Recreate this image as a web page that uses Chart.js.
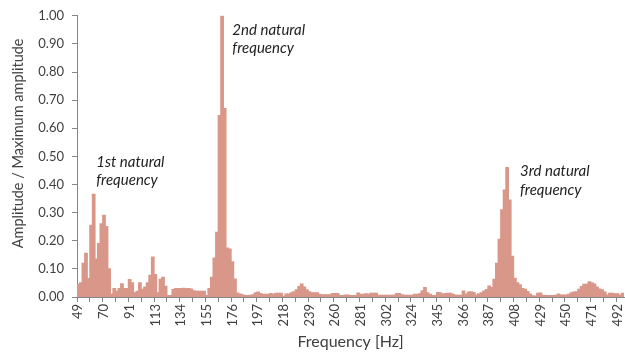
<!DOCTYPE html>
<html>
<head>
<meta charset="utf-8">
<script src="https://cdn.jsdelivr.net/npm/chart.js@4"></script>
<style>
  body { margin: 0; background: #fff; }
  #wrap { width: 625px; height: 353px; }
</style>
</head>
<body>
<div id="wrap"><canvas id="chart-area"></canvas></div>
<script>
// frequency spectrum, amplitude normalised by the max
var tickLabels = ['49', '70', '91', '113', '134', '155', '176', '197', '218', '239', '260',
  '281', '302', '324', '345', '366', '387', '408', '429', '450', '471', '492'];
var binsPerLabel = 10;

var amplitude = [
  0.045, 0.05, 0.12, 0.155, 0.065, 0.255, 0.365, 0.135, 0.19, 0.26,
  0.29, 0.25, 0.10, 0.01, 0.03, 0.02, 0.03, 0.047, 0.03, 0.03,
  0.062, 0.05, 0.015, 0.02, 0.05, 0.027, 0.035, 0.05, 0.077, 0.142,
  0.08, 0.015, 0.063, 0.07, 0.038, 0.005, 0.005, 0.026, 0.03, 0.03,
  0.03, 0.031, 0.03, 0.03, 0.028, 0.022, 0.02, 0.02, 0.02, 0.02,
  0.005, 0.03, 0.07, 0.138, 0.23, 0.645, 1.0, 0.67, 0.174, 0.17,
  0.125, 0.064, 0.014, 0.01, 0.008, 0.005, 0.005, 0.006, 0.008, 0.015,
  0.017, 0.012, 0.009, 0.009, 0.009, 0.012, 0.009, 0.013, 0.013, 0.013,
  0.002, 0.01, 0.01, 0.015, 0.018, 0.025, 0.037, 0.046, 0.035, 0.025,
  0.018, 0.015, 0.015, 0.015, 0.009, 0.008, 0.008, 0.008, 0.008, 0.012,
  0.012, 0.012, 0.005, 0.005, 0.007, 0.007, 0.005, 0.005, 0.005, 0.014,
  0.009, 0.009, 0.011, 0.009, 0.013, 0.013, 0.013, 0.006, 0.006, 0.006,
  0.006, 0.006, 0.006, 0.006, 0.012, 0.012, 0.008, 0.006, 0.006, 0.006,
  0.006, 0.009, 0.009, 0.011, 0.022, 0.033, 0.015, 0.009, 0.005, 0.005,
  0.016, 0.015, 0.01, 0.012, 0.013, 0.013, 0.009, 0.006, 0.006, 0.006,
  0.021, 0.01, 0.017, 0.018, 0.016, 0.007, 0.011, 0.015, 0.021, 0.026,
  0.039, 0.033, 0.063, 0.12, 0.205, 0.31, 0.38, 0.46, 0.345, 0.145,
  0.066, 0.05, 0.043, 0.03, 0.027, 0.019, 0.01, 0.004, 0.003, 0.013,
  0.014, 0.006, 0.005, 0.005, 0.005, 0.005, 0.006, 0.01, 0.007, 0.007,
  0.007, 0.009, 0.015, 0.017, 0.018, 0.027, 0.037, 0.045, 0.045, 0.054,
  0.05, 0.046, 0.035, 0.028, 0.025, 0.017, 0.007, 0.013, 0.013, 0.011,
  0.011, 0.007, 0.013
];

// notes next to the peaks: bin index, value, lines
var notes = [
  { bin: 7, value: 0.48, lines: ['1st natural', 'frequency'] },
  { bin: 60, value: 0.95, lines: ['2nd natural', 'frequency'] },
  { bin: 172, value: 0.447, lines: ['3rd natural', 'frequency'] }
];

var yTitle = 'Amplitude / Maximum amplitude';

var categories = amplitude.map(function(v, i) {
  return i % binsPerLabel === 0 ? (tickLabels[i / binsPerLabel] || '') : '';
});

var FONT = 'Lato, "Open Sans", sans-serif';
var TEXT = '#404040';
var AXIS = '#868686';

var notePlugin = {
  id: 'peakNotes',
  afterDatasetsDraw: function(chart) {
    var ctx = chart.ctx;
    var xs = chart.scales.x, ys = chart.scales.y;
    ctx.save();
    ctx.font = 'italic 15px ' + FONT;
    ctx.fillStyle = '#222';
    ctx.textBaseline = 'middle';
    ctx.textAlign = 'left';
    notes.forEach(function(n) {
      var x = xs.getPixelForValue(n.bin);
      var y = ys.getPixelForValue(n.value);
      n.lines.forEach(function(line, k) {
        ctx.fillText(line, x, y + k * 18.5);
      });
    });
    // vertical axis title, sits a bit above the middle of the plot
    ctx.font = '14.5px ' + FONT;
    ctx.fillStyle = TEXT;
    ctx.textAlign = 'center';
    ctx.translate(18, (chart.chartArea.top + chart.chartArea.bottom) / 2 - 13);
    ctx.rotate(-Math.PI / 2);
    ctx.fillText(yTitle, 0, 0);
    ctx.restore();
  }
};

var config = {
  type: 'bar',
  data: {
    labels: categories,
    datasets: [{
      data: amplitude,
      backgroundColor: '#D9978A',
      borderWidth: 0,
      inflateAmount: 0.6,
      barPercentage: 1.0,
      categoryPercentage: 1.0
    }]
  },
  options: {
    responsive: true,
    maintainAspectRatio: false,
    animation: false,
    layout: { padding: { left: 0, right: 1, top: 15, bottom: 0 } },
    plugins: { legend: { display: false }, tooltip: { enabled: false } },
    scales: {
      x: {
        border: { color: AXIS, width: 1 },
        grid: {
          drawOnChartArea: false,
          tickLength: 5,
          color: function(c) { return c.index % 5 === 0 ? AXIS : 'rgba(0,0,0,0)'; }
        },
        ticks: {
          autoSkip: false,
          minRotation: 90,
          maxRotation: 90,
          padding: 2,
          color: TEXT,
          font: { family: FONT, size: 13 }
        },
        title: {
          display: true,
          text: 'Frequency [Hz]',
          color: TEXT,
          font: { family: FONT, size: 16 },
          padding: { top: 0, bottom: 2 }
        },
        afterFit: function(s) {
          s.height = 56;
          s.paddingRight = 0;
          s.paddingLeft = 0;
        }
      },
      y: {
        min: 0,
        max: 1,
        border: { color: AXIS, width: 1 },
        grid: { drawOnChartArea: false, tickLength: 5, color: AXIS },
        ticks: {
          stepSize: 0.1,
          padding: 8,
          color: TEXT,
          font: { family: FONT, size: 13 },
          callback: function(v) { return v.toFixed(2); }
        },
        afterFit: function(s) { s.width = 77; }
      }
    }
  },
  plugins: [notePlugin]
};

var ctx = document.getElementById('chart-area').getContext('2d');
window.myBar = new Chart(ctx, config);
</script>
</body>
</html>
